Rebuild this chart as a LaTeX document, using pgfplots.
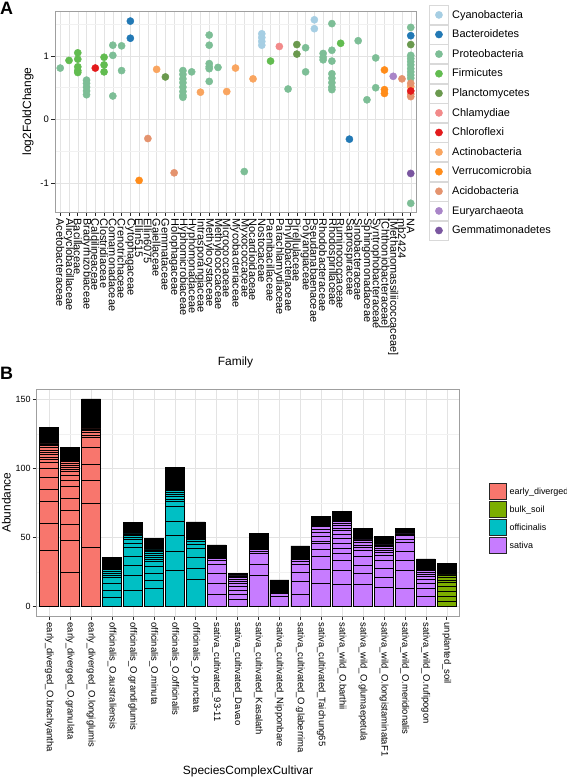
\documentclass[border=0pt]{standalone}
\usepackage{pgfplots}
\pgfplotsset{compat=1.18}
\usepackage{fontspec}
\setmainfont{Liberation Sans}
\newcommand\fs[1]{\fontsize{#1}{#1}\selectfont}
\definecolor{cCyano}{HTML}{A6CEE3}
\definecolor{cBacte}{HTML}{2279B5}
\definecolor{cProteo}{HTML}{7DBE96}
\definecolor{cFirmi}{HTML}{62BC50}
\definecolor{cPlanc}{HTML}{6A994E}
\definecolor{cChlam}{HTML}{F28A8A}
\definecolor{cChlor}{HTML}{E31A1C}
\definecolor{cActin}{HTML}{F9A560}
\definecolor{cVerru}{HTML}{FF8C1A}
\definecolor{cAcido}{HTML}{E4936E}
\definecolor{cEurya}{HTML}{A985C8}
\definecolor{cGemma}{HTML}{7A56A0}
\definecolor{cEarly}{HTML}{F8766D}
\definecolor{cBulk}{HTML}{7CAE00}
\definecolor{cOffi}{HTML}{00BFC4}
\definecolor{cSati}{HTML}{C77CFF}
\pgfplotsset{
  ggframe/.style={
    scale only axis, anchor=south west,
    grid=both,
    major grid style={draw=gray!22, line width=0.5bp},
    minor grid style={draw=gray!11, line width=0.5bp},
    tick align=outside, xtick pos=left, ytick pos=left,
    major tick length=4bp, minor tick length=0bp,
    tick style={draw=black!85, line width=0.6bp},
    axis line style={draw=gray!75, line width=0.8bp},
  },
  pt/.style={only marks, mark=*, mark size=3.6bp, #1, mark options={draw=none, fill=#1}},
  seg/.style={ybar, bar width=0.9, bar shift=0pt, fill=#1, draw=black, line width=0.7bp, forget plot},
}
\begin{document}
\begin{tikzpicture}[x=1bp,y=1bp]
\useasboundingbox (0,0) rectangle (567,779);
\node[anchor=north west, inner sep=0pt, font=\bfseries\fs{18}] at (0,777) {A};
\node[anchor=north west, inner sep=0pt, font=\bfseries\fs{18}] at (0,412) {B};
% ---------------- Panel A ----------------
\begin{axis}[ggframe,
  at={(55bp,567bp)}, width=361bp, height=201bp,
  xmin=0.4, xmax=41.6, ymin=-1.457, ymax=1.709,
  xtick={1,...,41},
  xticklabels={Acetobacteraceae,Alicyclobacillaceae,Bacillaceae,Bradyrhizobiaceae,Caldilineaceae,Clostridiaceae,Comamonadaceae,Crenotrichaceae,Cytophagaceae,Ellin515,Ellin6075,Gaiellaceae,Gemmataceae,Holophagaceae,Hyphomicrobiaceae,Hyphomonadaceae,Intrasporangiaceae,Methylocystaceae,Methylococcaceae,Micrococcaceae,Mycobacteriaceae,Myxococcaceae,Nocardioidaceae,Nostocaceae,Paenibacillaceae,Parachlamydiaceae,Phyllobacteriaceae,Pirellulaceae,Polyangiaceae,Pseudanabaenaceae,Rhodobacteraceae,Rhodospirillaceae,Ruminococcaceae,Saprospiraceae,Sinobacteraceae,Sphingomonadaceae,Syntrophobacteraceae,{[Chthoniobacteraceae]},{[Methanomassiliicoccaceae]},mb2424,NA},
  x tick label style={rotate=-90, anchor=west, font=\fs{11}, inner sep=2.5bp},
  ytick={-1,0,1}, yticklabels={-1,0,1},
  minor ytick={-1.5,-0.5,0.5,1.5},
  y tick label style={font=\fs{9.5}, inner sep=2bp},
  xlabel={Family}, ylabel={log2FoldChange},
  xlabel style={at={(axis description cs:0.5,-0.746)}, anchor=center, font=\fs{12}},
  ylabel style={at={(axis description cs:-0.075,0.5)}, anchor=center, rotate=0, font=\fs{12}},
  legend cell align=left,
  legend image code/.code={\draw[draw=gray!30, fill=white, line width=0.5bp] (0bp,-9.5bp) rectangle (19bp,9.5bp); \draw[#1] plot coordinates {(9.5bp,0bp)};},
  legend style={at={(axis description cs:1.036,1.030)}, anchor=north west, draw=none, fill=none, inner sep=0pt, nodes={inner sep=0pt, text depth=0.15em}, row sep=0.1bp, column sep=3.5bp, font=\fs{11}},
]
\addplot[pt=cCyano] coordinates {(24,1.35)(24,1.29)(24,1.23)(24,1.17)(30,1.57)(30,1.43)};
\addlegendentry{Cyanobacteria}
\addplot[pt=cBacte] coordinates {(9,1.55)(9,1.28)(34,-0.31)(41,1.32)};
\addlegendentry{Bacteroidetes}
\addplot[pt=cProteo] coordinates {(1,0.81)(4,0.62)(4,0.57)(4,0.51)(4,0.45)(4,0.39)(7,1.17)(7,1.01)(7,0.37)(8,1.16)(8,0.77)(15,0.77)(15,0.71)(15,0.64)(15,0.58)(15,0.51)(15,0.44)(15,0.38)(15,0.35)(16,0.75)(18,1.33)(18,1.17)(18,0.88)(18,0.83)(18,0.80)(18,0.60)(19,0.82)(22,-0.82)(27,0.48)(29,1.13)(29,0.75)(31,1.04)(31,0.98)(31,0.94)(32,1.51)(32,1.09)(32,0.92)(32,0.72)(32,0.65)(32,0.58)(32,0.51)(32,0.47)(35,1.24)(36,0.31)(37,0.97)(37,0.50)(41,1.45)(41,1.01)(41,0.96)(41,0.91)(41,0.86)(41,0.80)(41,0.75)(41,0.70)(41,0.65)(41,-1.32)};
\addlegendentry{Proteobacteria}
\addplot[pt=cFirmi] coordinates {(2,0.93)(3,1.05)(3,0.95)(3,0.83)(3,0.77)(3,0.74)(6,0.98)(6,0.86)(6,0.75)(25,0.92)(33,1.20)};
\addlegendentry{Firmicutes}
\addplot[pt=cPlanc] coordinates {(13,0.67)(28,1.18)(28,1.03)(41,1.18)};
\addlegendentry{Planctomycetes}
\addplot[pt=cChlam] coordinates {(26,1.15)};
\addlegendentry{Chlamydiae}
\addplot[pt=cChlor] coordinates {(5,0.81)};
\addlegendentry{Chloroflexi}
\addplot[pt=cActin] coordinates {(12,0.79)(17,0.43)(20,0.44)(21,0.81)(23,0.64)(41,0.52)};
\addlegendentry{Actinobacteria}
\addplot[pt=cVerru] coordinates {(10,-0.96)(38,0.78)(38,0.47)(38,0.41)};
\addlegendentry{Verrucomicrobia}
\addplot[pt=cAcido] coordinates {(11,-0.30)(14,-0.84)(40,0.64)(41,0.57)(41,0.40)(41,0.36)};
\addlegendentry{Acidobacteria}
\addplot[pt=cEurya] coordinates {(39,0.68)};
\addlegendentry{Euryarchaeota}
\addplot[pt=cGemma] coordinates {(41,-0.85)};
\addlegendentry{Gemmatimonadetes}
\addplot[pt=cChlor, forget plot] coordinates {(41,0.45)};
\end{axis}
% ---------------- Panel B ----------------
\begin{axis}[ggframe,
  at={(36.7bp,163bp)}, width=422.6bp, height=226.7bp,
  xmin=0.4, xmax=20.6, ymin=-6.8, ymax=157.2,
  xtick={1,...,20},
  xticklabels={early\_diverged\_O.brachyantha,early\_diverged\_O.granulata,early\_diverged\_O.longiglumis,officinalis\_O.australiensis,officinalis\_O.grandiglumis,officinalis\_O.minuta,officinalis\_O.officinalis,officinalis\_O.punctata,sativa\_cultivated\_93-11,sativa\_cultivated\_Davao,sativa\_cultivated\_Kasalath,sativa\_cultivated\_Nipponbare,sativa\_cultivated\_O.glaberrima,sativa\_cultivated\_Taichung65,sativa\_wild\_O.barthii,sativa\_wild\_O.glumaepetula,sativa\_wild\_O.longistaminataF1,sativa\_wild\_O.meridionalis,sativa\_wild\_O.rufipogon,unplanted\_soil},
  x tick label style={rotate=-90, anchor=west, font=\fs{9.5}, inner sep=2.5bp},
  ytick={0,50,100,150}, yticklabels={0,50,100,150},
  minor ytick={25,75,125},
  y tick label style={font=\fs{9}, inner sep=2bp},
  xlabel={SpeciesComplexCultivar}, ylabel={Abundance},
  xlabel style={at={(axis description cs:0.5,-0.687)}, anchor=center, font=\fs{12}},
  ylabel style={at={(axis description cs:-0.072,0.5)}, anchor=center, rotate=0, font=\fs{12}},
  legend cell align=left,
  legend image code/.code={\draw[#1, draw=black!85, line width=0.7bp] (0bp,-8.3bp) rectangle (16.7bp,8.3bp);},
  legend style={at={(axis description cs:1.0703,0.588)}, anchor=north west, draw=none, fill=none, inner sep=0pt, nodes={inner sep=0pt, text depth=0.15em}, row sep=0.7bp, column sep=3bp, font=\fs{9}},
]
\addlegendimage{fill=cEarly}\addlegendentry{early\_diverged}
\addlegendimage{fill=cBulk}\addlegendentry{bulk\_soil}
\addlegendimage{fill=cOffi}\addlegendentry{officinalis}
\addlegendimage{fill=cSati}\addlegendentry{sativa}
% totals (black top part)
\addplot[seg=black] coordinates {(1,129.5)(2,115)(3,150.2)(4,35.7)(5,60.8)(6,49.5)(7,100.6)(8,61.3)(9,44.6)(10,24.1)(11,53)(12,19.3)(13,43.9)(14,65.1)(15,68.7)(16,56.7)(17,50.6)(18,56.7)(19,34.5)(20,31.3)};
% segment boundaries, drawn from top to bottom
\addplot[seg=cEarly] coordinates {(1,117.7)(1,116.5)(1,115)(1,113.3)(1,111.6)(1,110)(1,108.3)(1,106.6)(1,104.6)(1,100.1)(1,93.3)(1,85.1)(1,75.9)(1,60.3)(1,41)};
\addplot[seg=cEarly] coordinates {(2,104.9)(2,103.7)(2,102.5)(2,101)(2,99.4)(2,97.7)(2,95.3)(2,91)(2,87.1)(2,78)(2,69.3)(2,59.2)(2,47.9)(2,24.9)};
\addplot[seg=cEarly] coordinates {(3,128.5)(3,127.3)(3,125.9)(3,124.2)(3,122.3)(3,115.1)(3,103)(3,91)(3,74.8)(3,43)};
\addplot[seg=cOffi] coordinates {(4,27)(4,25.8)(4,24.4)(4,22.7)(4,21)(4,16.9)(4,12.1)(4,6.8)};
\addplot[seg=cOffi] coordinates {(5,52.6)(5,51.4)(5,50)(5,48.3)(5,45.8)(5,42.9)(5,36.6)(5,30.1)(5,22.9)(5,12)};
\addplot[seg=cOffi] coordinates {(6,41)(6,39.8)(6,38.6)(6,37.4)(6,35.7)(6,34.3)(6,32.6)(6,29)(6,24.2)(6,18.9)(6,13.3)};
\addplot[seg=cOffi] coordinates {(7,83.9)(7,82.7)(7,81.3)(7,79.6)(7,77.9)(7,76)(7,72.4)(7,61.5)(7,51.9)(7,39.8)(7,26.1)};
\addplot[seg=cOffi] coordinates {(8,48.7)(8,47)(8,45.3)(8,42.2)(8,35.4)(8,27.7)(8,19.8)};
\addplot[seg=cSati] coordinates {(9,35)(9,33.8)(9,30.9)(9,24.2)(9,16.9)(9,9.2)};
\addplot[seg=cSati] coordinates {(10,22.2)(10,21)(10,19.8)(10,18.6)(10,16.9)(10,15)(10,12.1)(10,9.2)(10,5.3)};
\addplot[seg=cSati] coordinates {(11,41.5)(11,39.8)(11,38.2)(11,30.9)(11,22.7)};
\addplot[seg=cSati] coordinates {(12,9.6)(12,7.7)};
\addplot[seg=cSati] coordinates {(13,34.2)(13,32.6)(13,30.9)(13,25)(13,18.3)(13,9.2)};
\addplot[seg=cSati] coordinates {(14,57.9)(14,55.6)(14,53.6)(14,50.6)(14,47)(14,45.8)(14,41.5)(14,36.2)(14,26.6)(14,17.1)};
\addplot[seg=cSati] coordinates {(15,61.5)(15,60.3)(15,58.6)(15,56.7)(15,54.8)(15,52.6)(15,49.5)(15,45.8)(15,42.2)(15,38.2)(15,33.8)(15,26.1)(15,16.4)};
\addplot[seg=cSati] coordinates {(16,48.2)(16,46.3)(16,44.6)(16,42.9)(16,40.5)(16,36.2)(16,30.1)(16,24.2)(16,16.2)};
\addplot[seg=cSati] coordinates {(17,44.6)(17,43.4)(17,42.2)(17,40.5)(17,39.1)(17,37.4)(17,33.8)(17,27.7)(17,21.2)(17,14)};
\addplot[seg=cSati] coordinates {(18,52.6)(18,51.2)(18,48.3)(18,46.3)(18,39.8)(18,33.3)(18,26.1)(18,13.3)};
\addplot[seg=cSati] coordinates {(19,26.1)(19,24.9)(19,23.5)(19,21.9)(19,19.5)(19,17.1)(19,13.3)(19,7.5)};
\addplot[seg=cBulk] coordinates {(20,22.9)(20,21.2)(20,19.3)(20,17.4)(20,14.5)(20,10.9)(20,7.3)(20,3.6)};
\end{axis}
\end{tikzpicture}
\end{document}
